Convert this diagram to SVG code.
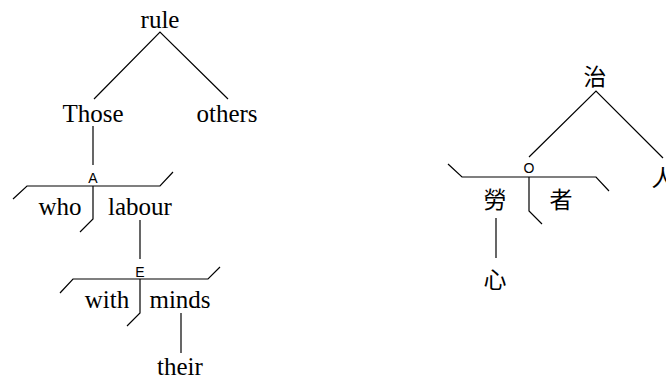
<svg xmlns="http://www.w3.org/2000/svg" width="666" height="378" viewBox="0 0 666 378">
<style>
.w{font-family:"Liberation Serif","Times New Roman",serif;font-size:25px;fill:#000;text-anchor:middle}
.c{font-family:"Noto Sans CJK TC","Noto Sans CJK SC",sans-serif;font-size:23px;fill:#000;text-anchor:middle}
.m{font-family:"Liberation Sans",Arial,sans-serif;font-size:14px;fill:#000;text-anchor:middle}
.ln{stroke:#000;stroke-width:1.2;fill:none}
</style>
<rect width="666" height="378" fill="#fff"/>
<g id="connectors" class="ln">
<path d="M94,99 L160,32 L228,99"/>
<path d="M93,126 V165"/>
<path d="M13,199 L27,186 H160 L173,172"/>
<path d="M93,186 V219 L80,232"/>
<path d="M140,220 V259"/>
<path d="M60,293 L73,279 H208 L220,267"/>
<path d="M140,279 V313 L127,326"/>
<path d="M181,313 V353"/>
<path d="M529,157 L596,91 L663,158"/>
<path d="M448,164 L462,177 H596 L609,191"/>
<path d="M529,177 V211 L542,224"/>
<path d="M496,218 V258"/>
</g>
<g id="n-rule"><text class="w" x="160" y="28">rule</text></g>
<g id="n-those"><text class="w" x="93" y="122">Those</text></g>
<g id="n-others"><text class="w" x="227" y="122">others</text></g>
<g id="n-a"><text class="m" x="93" y="183">A</text></g>
<g id="n-who"><text class="w" x="60" y="215">who</text></g>
<g id="n-labour"><text class="w" x="140" y="215">labour</text></g>
<g id="n-e"><text class="m" x="140" y="277">E</text></g>
<g id="n-with"><text class="w" x="107" y="308">with</text></g>
<g id="n-minds"><text class="w" x="180" y="308">minds</text></g>
<g id="n-their"><text class="w" x="180" y="375">their</text></g>
<g id="n-zhi"><text class="c" x="595" y="85">治</text></g>
<g id="n-ren"><text class="c" x="663" y="186">人</text></g>
<g id="n-o"><text class="m" x="529" y="173">O</text></g>
<g id="n-lao"><text class="c" x="495" y="208">勞</text></g>
<g id="n-zhe"><text class="c" x="561" y="208">者</text></g>
<g id="n-xin"><text class="c" x="495" y="288">心</text></g>
</svg>
